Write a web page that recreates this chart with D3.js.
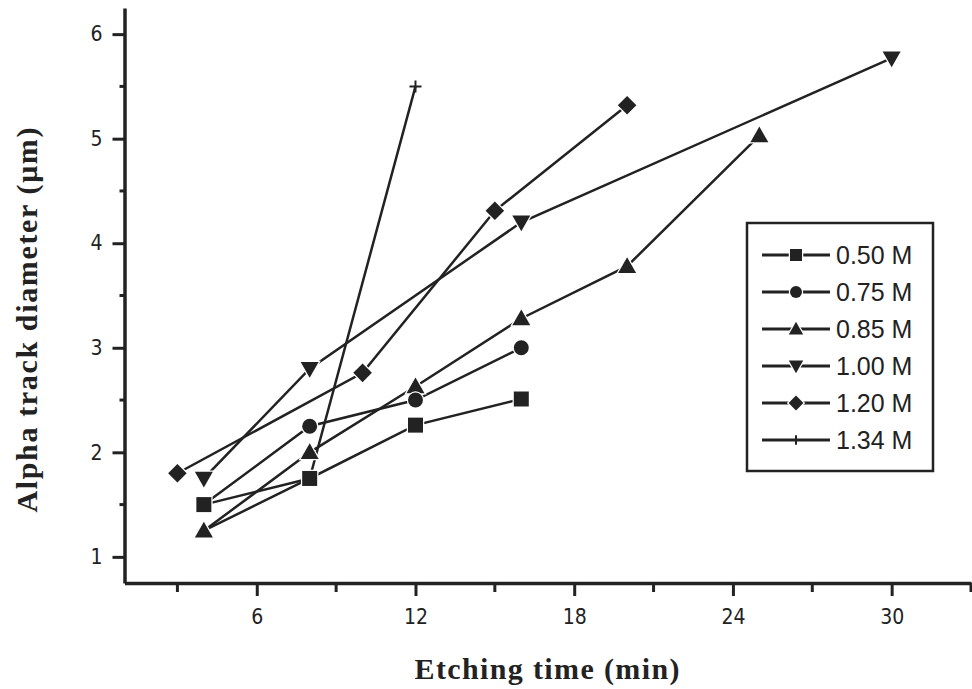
<!DOCTYPE html>
<html>
<head>
<meta charset="utf-8">
<script src="https://cdn.jsdelivr.net/npm/d3@7"></script>
<style>
    body { margin: 0; background: #fff; }
    svg { display: block; }
    .tick-label { font-family: "Liberation Sans Narrow", "DejaVu Sans Condensed", "Liberation Sans", sans-serif; font-size: 21px; fill: #222; }
    .title { font-family: "Liberation Serif", "DejaVu Serif", serif; font-weight: bold; font-size: 30px; fill: #222; }
    .legend-text { font-family: "Liberation Sans Narrow", "Liberation Sans", sans-serif; font-size: 25px; fill: #222; }
</style>
</head>
<body>
<svg width="972" height="689"></svg>
<script>
const SERIES = ['0.50 M', '0.75 M', '0.85 M', '1.00 M', '1.20 M', '1.34 M'];
const SYMBOLS = ['square', 'circle', 'triangle', 'down', 'diamond', 'plus'];

// etching time (min) / alpha track diameter (um) per series
const TIMES = [
    [4, 8, 12, 16],
    [4, 8, 12, 16],
    [4, 8, 12, 16, 20, 25],
    [4, 8, 16, 30],
    [3, 10, 15, 20],
    [4, 8, 12]
];
const DIAMETERS = [
    [1.5, 1.75, 2.26, 2.51],
    [1.5, 2.25, 2.5, 3.0],
    [1.25, 2.0, 2.63, 3.28, 3.78, 5.03],
    [1.75, 2.8, 4.2, 5.77],
    [1.8, 2.76, 4.31, 5.32],
    [1.25, 1.75, 5.5]
];

const X_TICKS = [6, 12, 18, 24, 30];
const X_MINOR = [3, 9, 15, 21, 27, 33];
const Y_TICKS = [1, 2, 3, 4, 5, 6];
const Y_MINOR = [1.5, 2.5, 3.5, 4.5, 5.5];

const INK = '#222';

const svg = d3.select('svg');

const xScale = d3.scaleLinear().domain([1, 33]).range([124.5, 971]);
const yScale = d3.scaleLinear().domain([0.75, 6.25]).range([583, 8]);

// axes
const xAxis = svg.append('g').attr('transform', 'translate(0,583)');
xAxis.call(d3.axisBottom(xScale).tickValues(X_TICKS).tickSize(13).tickFormat(d3.format('d')).tickSizeOuter(0));
xAxis.append('g').selectAll('line')
    .data(X_MINOR)
    .enter()
    .append('line')
    .attr('x1', d => xScale(d))
    .attr('x2', d => xScale(d))
    .attr('y1', 0)
    .attr('y2', 9);

const yAxis = svg.append('g').attr('transform', 'translate(124.5,0)');
yAxis.call(d3.axisLeft(yScale).tickValues(Y_TICKS).tickSize(12).tickFormat(d3.format('d')).tickSizeOuter(0));
yAxis.append('g').selectAll('line')
    .data(Y_MINOR)
    .enter()
    .append('line')
    .attr('x1', 0)
    .attr('x2', -5)
    .attr('y1', d => yScale(d))
    .attr('y2', d => yScale(d));

svg.selectAll('.domain').attr('stroke', INK).attr('stroke-width', 3.5);
svg.selectAll('.tick line').attr('stroke', INK).attr('stroke-width', 3);
svg.selectAll('g g line').attr('stroke', INK).attr('stroke-width', 3);
xAxis.selectAll('.tick text').attr('class', 'tick-label').attr('dy', '0.35em').attr('y', 34);
yAxis.selectAll('.tick text').attr('class', 'tick-label').attr('x', -22);

svg.append('text')
    .attr('class', 'title')
    .attr('x', 547)
    .attr('y', 679)
    .attr('text-anchor', 'middle')
    .attr('textLength', 265)
    .attr('lengthAdjust', 'spacing')
    .text('Etching time (min)');

svg.append('text')
    .attr('class', 'title')
    .attr('transform', 'translate(37,320) rotate(-90)')
    .attr('text-anchor', 'middle')
    .attr('textLength', 385)
    .attr('lengthAdjust', 'spacing')
    .text('Alpha track diameter (\u03bcm)');

// markers
function marker(sel, kind, size) {
    const s = size;
    if (kind === 'plus') {
        sel.append('path')
            .attr('d', `M${-s * 0.4},0H${s * 0.4}M0,${-s * 0.4}V${s * 0.4}`)
            .attr('stroke', INK)
            .attr('stroke-width', 2)
            .attr('fill', 'none');
        return;
    }
    let d;
    if (kind === 'square') d = `M${-s / 2},${-s / 2}h${s}v${s}h${-s}Z`;
    if (kind === 'circle') d = d3.symbol(d3.symbolCircle, s * s * 0.78)();
    if (kind === 'triangle') d = `M0,${-s * 0.6}L${s * 0.6},${s * 0.45}L${-s * 0.6},${s * 0.45}Z`;
    if (kind === 'down') d = `M0,${s * 0.6}L${s * 0.6},${-s * 0.45}L${-s * 0.6},${-s * 0.45}Z`;
    if (kind === 'diamond') d = `M0,${-s * 0.62}L${s * 0.62},0L0,${s * 0.62}L${-s * 0.62},0Z`;
    sel.append('path')
        .attr('d', d)
        .attr('fill', INK)
        .attr('stroke', '#fff')
        .attr('stroke-width', 2.5)
        .attr('paint-order', 'stroke');
}

const line = d3.line().x(d => xScale(d[0])).y(d => yScale(d[1]));

const seriesData = SERIES.map((name, i) => ({
    name: name,
    symbol: SYMBOLS[i],
    points: TIMES[i].map((t, j) => [t, DIAMETERS[i][j]])
}));

svg.append('g')
    .selectAll('path')
    .data(seriesData)
    .enter()
    .append('path')
    .attr('d', d => line(d.points))
    .attr('fill', 'none')
    .attr('stroke', INK)
    .attr('stroke-width', 2.5);

// last series first so the square / triangle sit on top where points coincide
seriesData.slice().reverse().forEach(s => {
    svg.append('g')
        .selectAll('g')
        .data(s.points)
        .enter()
        .append('g')
        .attr('transform', d => `translate(${xScale(d[0])},${yScale(d[1])})`)
        .each(function () { marker(d3.select(this), s.symbol, 15); });
});

// legend
const legend = svg.append('g').attr('transform', 'translate(747,223)');
legend.append('rect')
    .attr('width', 186)
    .attr('height', 248)
    .attr('fill', '#fff')
    .attr('stroke', INK)
    .attr('stroke-width', 2.5);

const rows = legend.selectAll('.row')
    .data(seriesData)
    .enter()
    .append('g')
    .attr('class', 'row')
    .attr('transform', (d, i) => `translate(0,${32 + i * 37})`);

rows.append('line')
    .attr('x1', 15)
    .attr('x2', 83)
    .attr('stroke', INK)
    .attr('stroke-width', 3);

rows.append('g')
    .attr('transform', 'translate(49,0)')
    .each(function (d) { marker(d3.select(this), d.symbol, 12); });

rows.append('text')
    .attr('class', 'legend-text')
    .attr('x', 89)
    .attr('dy', '0.36em')
    .text(d => d.name);
</script>
</body>
</html>
